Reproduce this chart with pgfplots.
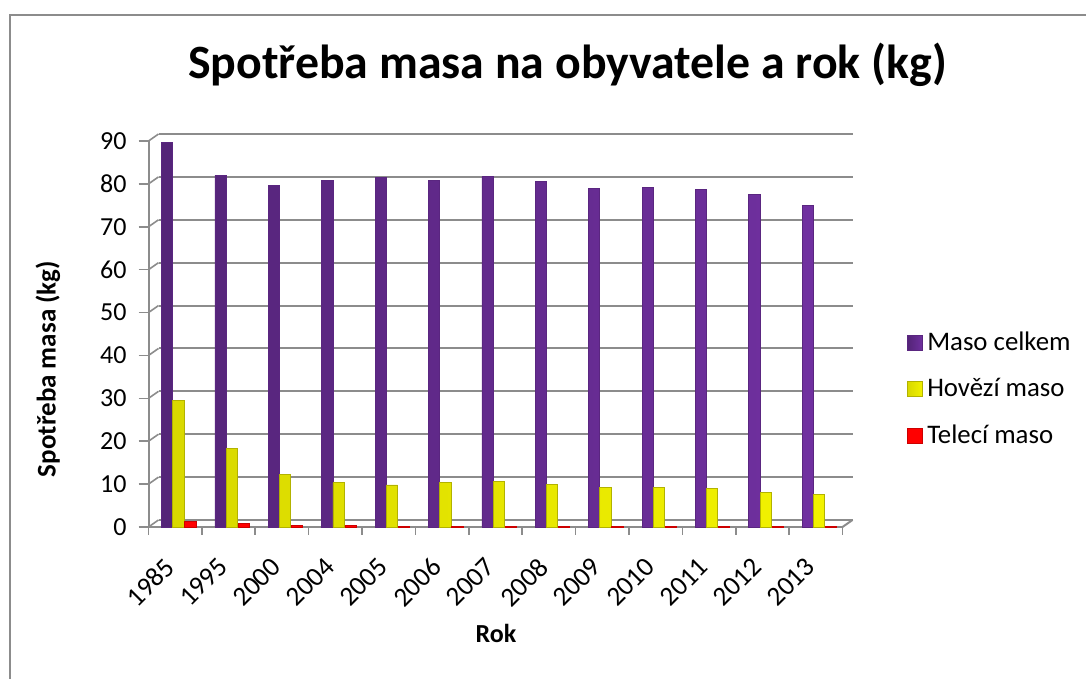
\documentclass[border=0pt]{standalone}
\usepackage{fontspec}
\setmainfont{Carlito}
\usepackage{pgfplots}
\pgfplotsset{compat=1.18}
\definecolor{mpurple}{HTML}{7030A0}
\definecolor{myellow}{HTML}{FFFF00}
\definecolor{mred}{HTML}{FF0000}
\definecolor{gridg}{HTML}{8C8C8C}
\begin{document}
\begin{tikzpicture}
\path[use as bounding box] (0,0) rectangle (543pt,339.5pt);
% outer chart border
\draw[gridg, line width=1.2pt] (5pt,0) -- (5pt,332pt) -- (543pt,332pt);
% back wall gridlines
\begin{axis}[
  at={(79.25pt,79.5pt)}, anchor=south west,
  scale only axis, width=347pt, height=193pt,
  xmin=-0.5, xmax=12.5, ymin=0, ymax=90,
  ytick={0,10,...,90}, xtick=\empty,
  yticklabels={}, ymajorgrids,
  major grid style={gridg, line width=1pt},
  axis line style={draw=none}, major tick length=0pt,
]
\end{axis}
\begin{axis}[
  at={(74.25pt,76pt)}, anchor=south west,
  scale only axis, width=347pt, height=193pt,
  xmin=-0.5, xmax=12.5, ymin=0, ymax=90,
  axis x line*=bottom, axis y line*=left,
  axis line style={gridg, line width=1pt},
  tick style={gridg, line width=0.8pt},
  tick align=outside,
  ytick={0,10,...,90},
  major tick length=5pt,
  xtick={0,...,12},
  xticklabels={1985,1995,2000,2004,2005,2006,2007,2008,2009,2010,2011,2012,2013},
  major x tick style={draw=none},
  minor xtick={-0.5,0.5,...,12.5},
  minor tick length=4pt,
  /pgf/number format/assume math mode=true,
  yticklabel style={font=\fontsize{13}{15}\selectfont, xshift=-2.5pt},
  xticklabel style={font=\fontsize{13.6}{16}\selectfont, rotate=45, anchor=north east, xshift=-7.5pt, yshift=1pt},
  legend style={at={(1.093,0.357)}, anchor=west, draw=none, fill=none,
    font=\fontsize{13.4}{15}\selectfont, row sep=8.6pt, inner sep=0pt},
  legend cell align=left,
  legend image code/.code={\fill[#1] (0pt,-3.75pt) rectangle (7.5pt,3.75pt);},
  clip=false,
]
\pgfplotsinvokeforeach{0,10,...,90}{\draw[gridg, line width=0.8pt] (axis cs:-0.5,#1) -- ++(5pt,3.5pt);}
\draw[gridg, line width=1pt] (axis cs:12.5,0) -- ++(5pt,3.5pt);
\addplot[ybar, bar width=5.6pt, bar shift=-4pt, draw=mpurple!80!black, left color=mpurple!75!black, middle color=mpurple!90!white, right color=mpurple] coordinates {
(0,89.6) (1,82.0) (2,79.6) (3,80.8) (4,81.6) (5,80.8) (6,81.7) (7,80.6) (8,78.9) (9,79.2) (10,78.7) (11,77.6) (12,75.0)};
\addlegendentry{Maso celkem}
\addplot[ybar, bar width=5.6pt, bar shift=1.6pt, draw=myellow!70!black, left color=myellow!85!black, middle color=myellow, right color=myellow!95!black] coordinates {
(0,29.5) (1,18.4) (2,12.3) (3,10.3) (4,9.8) (5,10.4) (6,10.7) (7,10.0) (8,9.3) (9,9.3) (10,9.0) (11,8.0) (12,7.5)};
\addlegendentry{Hovězí maso}
\addplot[ybar, bar width=5.6pt, bar shift=7.6pt, draw=mred!80!black, fill=mred] coordinates {
(0,1.2) (1,0.8) (2,0.4) (3,0.3) (4,0.2) (5,0.2) (6,0.1) (7,0.1) (8,0.1) (9,0.1) (10,0.1) (11,0.1) (12,0.1)};
\addlegendentry{Telecí maso}
\end{axis}
\node[font=\bfseries\fontsize{23.9}{26}\selectfont] at (283.75pt,307pt) {Spotřeba masa na obyvatele a rok (kg)};
\node[font=\bfseries\fontsize{13.5}{16}\selectfont, rotate=90] at (24pt,155pt) {Spotřeba masa (kg)};
\node[font=\bfseries\fontsize{13}{15}\selectfont] at (248pt,23pt) {Rok};
\end{tikzpicture}
\end{document}
